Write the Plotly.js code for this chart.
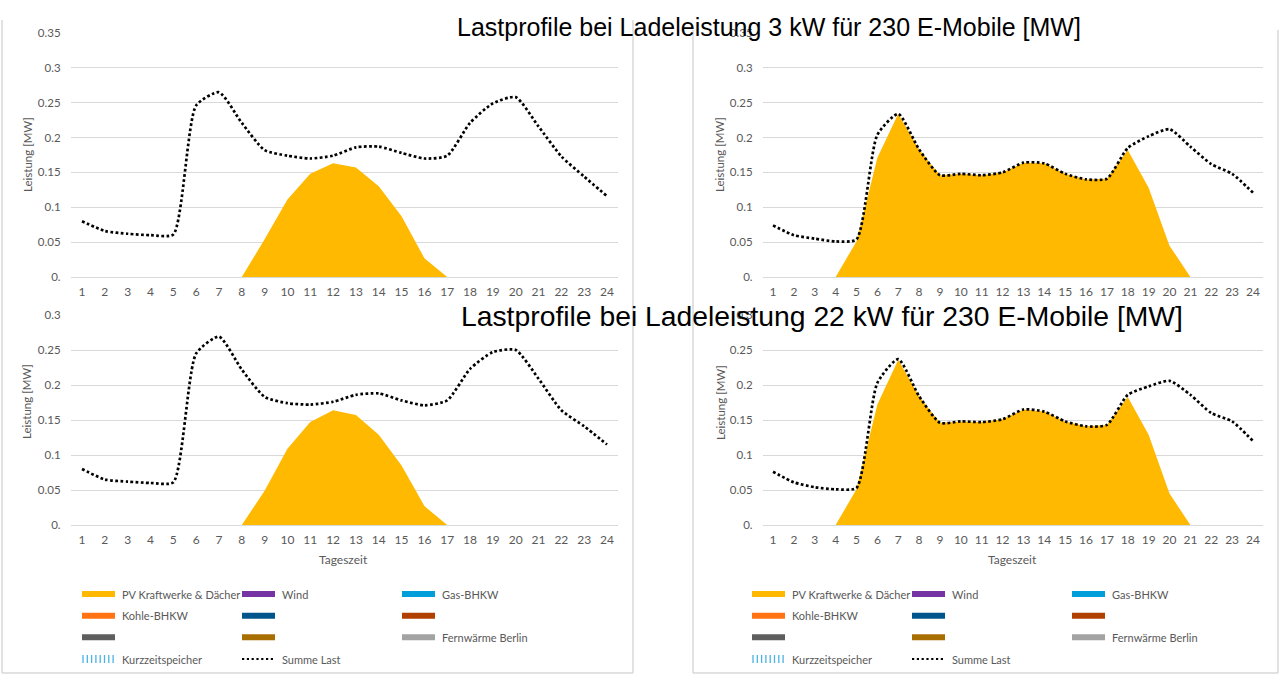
<!DOCTYPE html>
<html>
<head>
<meta charset="utf-8">
<script src="https://cdn.plot.ly/plotly-3.0.1.min.js"></script>
<style>
  html, body { margin: 0; padding: 0; background: #ffffff; }
  #chart { width: 1280px; height: 675px; }
</style>
</head>
<body>
<div id="chart"></div>
<script>
// Hours of the day (category axis)
const hours = [1, 2, 3, 4, 5, 6, 7, 8, 9, 10, 11, 12, 13, 14, 15, 16, 17, 18, 19, 20, 21, 22, 23, 24];

// Top left: 3 kW, PV only at noon
const pvTopLeft = [0, 0, 0, 0, 0, 0, 0, 0, 0.054, 0.111, 0.148, 0.163, 0.157, 0.130, 0.087, 0.027, 0, 0, 0, 0, 0, 0, 0, 0];
const lastTopLeft = [0.080, 0.066, 0.062, 0.060, 0.061, 0.246, 0.265, 0.221, 0.182, 0.174, 0.170, 0.174, 0.186, 0.187, 0.178, 0.170, 0.174, 0.221, 0.249, 0.258, 0.216, 0.173, 0.144, 0.116];

// Top right: 3 kW
const pvTopRight = [0, 0, 0, 0, 0.051, 0.171, 0.234, 0.183, 0.146, 0.148, 0.146, 0.150, 0.164, 0.163, 0.148, 0.140, 0.141, 0.182, 0.128, 0.045, 0, 0, 0, 0];
const lastTopRight = [0.074, 0.060, 0.055, 0.051, 0.054, 0.204, 0.234, 0.183, 0.146, 0.148, 0.146, 0.150, 0.164, 0.163, 0.148, 0.140, 0.141, 0.185, 0.202, 0.212, 0.187, 0.162, 0.148, 0.121];

// Bottom left: 22 kW
const pvBottomLeft = [0, 0, 0, 0, 0, 0, 0, 0, 0.049, 0.109, 0.147, 0.164, 0.157, 0.129, 0.085, 0.027, 0, 0, 0, 0, 0, 0, 0, 0];
const lastBottomLeft = [0.080, 0.065, 0.062, 0.060, 0.061, 0.245, 0.269, 0.222, 0.183, 0.174, 0.172, 0.176, 0.186, 0.188, 0.178, 0.171, 0.178, 0.223, 0.247, 0.250, 0.209, 0.164, 0.141, 0.115];

// Bottom right: 22 kW
const pvBottomRight = [0, 0, 0, 0, 0.051, 0.172, 0.236, 0.184, 0.146, 0.148, 0.147, 0.151, 0.165, 0.162, 0.148, 0.141, 0.143, 0.183, 0.129, 0.045, 0, 0, 0, 0];
const lastBottomRight = [0.076, 0.061, 0.054, 0.051, 0.053, 0.203, 0.237, 0.184, 0.146, 0.148, 0.147, 0.151, 0.165, 0.162, 0.148, 0.141, 0.143, 0.186, 0.198, 0.206, 0.186, 0.160, 0.148, 0.120];

// Tick labels as Excel shows them
const yTickVals = [0, 0.05, 0.1, 0.15, 0.2, 0.25, 0.3, 0.35];
const yTickText = ['0.', '0.05', '0.1', '0.15', '0.2', '0.25', '0.3', '0.35'];

// Texts
const titleTop = 'Lastprofile bei Ladeleistung 3 kW für 230 E-Mobile [MW]';
const titleBottom = 'Lastprofile bei Ladeleistung 22 kW für 230 E-Mobile [MW]';
const yTitle = 'Leistung [MW]';
const xTitle = 'Tageszeit';

// Legend entries (Excel legend, some entries have no name)
const legendLabels = ['PV Kraftwerke & Dächer', 'Wind', 'Gas-BHKW', 'Kohle-BHKW', '', '', '', '', 'Fernwärme Berlin', 'Kurzzeitspeicher', 'Summe Last'];
const legendColors = ['#ffb900', '#7533a3', '#009fdb', '#ff7314', '#00558c', '#b03f00', '#5e5e5e', '#a86e00', '#a3a3a3', '#49b3e6', '#000000'];

const W = 1280;
const H = 675;
const pvColor = '#ffb900';
const gridColor = '#d9d9d9';
const textColor = '#595959';
const font = 'Lato, "Open Sans", sans-serif';

// pixel helpers for paper coordinates
function px(x) { return x / W; }
function py(y) { return 1 - y / H; }

// one pair of traces per panel
function panelTraces(pv, last, n) {
  const xa = n === 1 ? 'x' : 'x' + n;
  const ya = n === 1 ? 'y' : 'y' + n;
  return [
    {
      x: hours,
      y: pv,
      xaxis: xa,
      yaxis: ya,
      type: 'scatter',
      mode: 'lines',
      fill: 'tozeroy',
      fillcolor: pvColor,
      line: { width: 0, color: pvColor },
      hoverinfo: 'skip',
    },
    {
      x: hours,
      y: last,
      xaxis: xa,
      yaxis: ya,
      type: 'scatter',
      mode: 'lines',
      line: { color: '#000000', width: 2.7, dash: '2.7px,2.4px', shape: 'spline', smoothing: 0.6 },
      hoverinfo: 'skip',
    },
  ];
}

const data = []
  .concat(panelTraces(pvTopLeft, lastTopLeft, 1))
  .concat(panelTraces(pvTopRight, lastTopRight, 2))
  .concat(panelTraces(pvBottomLeft, lastBottomLeft, 3))
  .concat(panelTraces(pvBottomRight, lastBottomRight, 4));

function xAxis(x0, x1, anchor) {
  return {
    domain: [px(x0), px(x1)],
    anchor: anchor,
    range: [0.5, 24.5],
    tickvals: hours,
    ticktext: hours.map(String),
    showgrid: false,
    zeroline: false,
    showline: false,
    ticks: '',
    ticklabelstandoff: 6,
    tickfont: { family: font, size: 12, color: textColor },
    fixedrange: true,
  };
}

function yAxis(y0, y1, top, anchor) {
  return {
    domain: [py(y0), py(y1)],
    anchor: anchor,
    range: [0, top],
    tickvals: yTickVals,
    ticktext: yTickText,
    showgrid: true,
    gridcolor: gridColor,
    gridwidth: 1,
    zeroline: true,
    zerolinecolor: gridColor,
    zerolinewidth: 1,
    showline: false,
    ticks: '',
    ticklabelstandoff: 9,
    tickfont: { family: font, size: 11.5, color: textColor },
    fixedrange: true,
  };
}

// Panel frames (light grey borders of the pasted Excel charts)
const shapes = [
  { x0: 2, y0: 20, x1: 2, y1: 673 },
  { x0: 633, y0: 20, x1: 633, y1: 673 },
  { x0: 2, y0: 673, x1: 633, y1: 673 },
  { x0: 693, y0: 30, x1: 693, y1: 673 },
  { x0: 1278, y0: 30, x1: 1278, y1: 673 },
  { x0: 693, y0: 673, x1: 1278, y1: 673 },
].map((s) => ({
  type: 'line',
  xref: 'paper',
  yref: 'paper',
  x0: px(s.x0),
  x1: px(s.x1),
  y0: py(s.y0),
  y1: py(s.y1),
  line: { color: gridColor, width: 1.5 },
}));

const annotations = [];

function addText(text, x, y, size, color, angle, anchor) {
  annotations.push({
    text: text,
    xref: 'paper',
    yref: 'paper',
    x: px(x),
    y: py(y),
    xanchor: anchor || 'center',
    yanchor: 'middle',
    textangle: angle || 0,
    showarrow: false,
    font: { family: font, size: size, color: color },
  });
}

// Big slide titles
annotations.push({
  text: titleTop,
  xref: 'paper', yref: 'paper',
  x: px(769), y: py(27),
  xanchor: 'center', yanchor: 'middle',
  showarrow: false,
  font: { family: '"Liberation Sans", Arial, sans-serif', size: 25, color: '#000000' },
});
annotations.push({
  text: titleBottom,
  xref: 'paper', yref: 'paper',
  x: px(822), y: py(316),
  xanchor: 'center', yanchor: 'middle',
  showarrow: false,
  font: { family: '"Liberation Sans", Arial, sans-serif', size: 28.3, color: '#000000' },
});

// Axis titles
addText(yTitle, 27, 155, 11.5, textColor, -90);
addText(yTitle, 719, 155, 11.5, textColor, -90);
addText(yTitle, 27, 402, 11.5, textColor, -90);
addText(yTitle, 720, 403, 11.5, textColor, -90);
addText(xTitle, 343, 559, 12, textColor, 0);
addText(xTitle, 1012, 559, 12, textColor, 0);

// Legends, drawn by hand to keep the Excel 3-column grid
function addLegend(left) {
  const colX = [left, left + 160, left + 320];
  const rowY = [594, 615.7, 637.3, 659];
  legendLabels.forEach((label, i) => {
    const x0 = colX[i % 3];
    const y = rowY[Math.floor(i / 3)];
    const color = legendColors[i];
    if (label === 'Kurzzeitspeicher') {
      // striped swatch
      for (let k = 0; k < 8; k++) {
        shapes.push({
          type: 'line', xref: 'paper', yref: 'paper',
          x0: px(x0 + 1 + k * 4.3), x1: px(x0 + 1 + k * 4.3),
          y0: py(y - 4), y1: py(y + 4),
          line: { color: color, width: 1.3 },
        });
      }
    } else if (label === 'Summe Last') {
      shapes.push({
        type: 'line', xref: 'paper', yref: 'paper',
        x0: px(x0), x1: px(x0 + 33), y0: py(y), y1: py(y),
        line: { color: color, width: 2.2, dash: '2.2px,2.6px' },
      });
    } else {
      shapes.push({
        type: 'rect', xref: 'paper', yref: 'paper',
        x0: px(x0), x1: px(x0 + 33), y0: py(y - 3), y1: py(y + 3),
        fillcolor: color,
        line: { width: 0 },
      });
    }
    if (label) addText(label, x0 + 38, y, 11, textColor, 0, 'left');
  });
}
addLegend(82);
addLegend(752);

const layout = {
  width: W,
  height: H,
  margin: { t: 0, b: 0, l: 0, r: 0, pad: 0 },
  paper_bgcolor: '#ffffff',
  plot_bgcolor: 'rgba(0,0,0,0)',
  showlegend: false,
  font: { family: font, color: textColor },
  xaxis: xAxis(70.6, 618.4, 'y'),
  yaxis: yAxis(277, 33, 0.35, 'x'),
  xaxis2: xAxis(762.6, 1263.4, 'y2'),
  yaxis2: yAxis(277, 33, 0.35, 'x2'),
  xaxis3: xAxis(70.6, 618.4, 'y3'),
  yaxis3: yAxis(525, 315, 0.3, 'x3'),
  xaxis4: xAxis(762.6, 1263.4, 'y4'),
  yaxis4: yAxis(525, 315, 0.3, 'x4'),
  shapes: shapes,
  annotations: annotations,
};

var config = { responsive: false, displayModeBar: false, staticPlot: true };

Plotly.newPlot('chart', data, layout, config);
</script>
</body>
</html>
